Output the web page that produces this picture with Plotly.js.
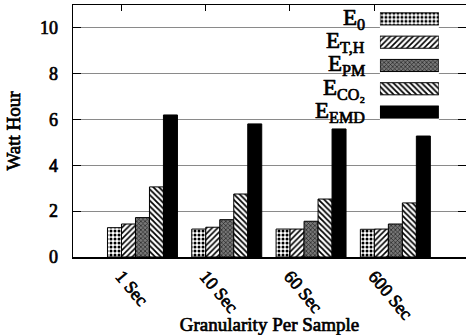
<!DOCTYPE html>
<html>
<head>
<meta charset="utf-8">
<script src="https://cdn.plot.ly/plotly-3.0.1.min.js"></script>
<style>
  html, body { margin: 0; padding: 0; background: #fff; }
  #chart { width: 466px; height: 335px; }
  /* heavier strokes for the serif labels */
  #chart svg text { stroke: #000; stroke-width: 0.7px; stroke-linejoin: round; }
</style>
</head>
<body>
<div id="chart"></div>
<script>
// Energy per sampling granularity (Watt hour)
const categories = ['1 Sec', '10 Sec', '60 Sec', '600 Sec'];
const seriesNames = ['E<sub>0</sub>', 'E<sub>T,H</sub>', 'E<sub>PM</sub>', 'E<sub>CO₂</sub>', 'E<sub>EMD</sub>'];
const e0   = [1.28, 1.22, 1.22, 1.21];
const eTH  = [1.44, 1.30, 1.22, 1.22];
const ePM  = [1.72, 1.63, 1.56, 1.44];
const eCO2 = [3.06, 2.75, 2.53, 2.36];
const eEMD = [6.20, 5.81, 5.59, 5.28];
const seriesValues = [e0, eTH, ePM, eCO2, eEMD];

// fill styles for each series (pattern shape, foreground, background)
const styles = [
  { shape: '.',  fg: '#000', bg: '#fff', size: 4, solidity: 0.45 },
  { shape: '/',  fg: '#000', bg: '#fff', size: 4, solidity: 0.4 },
  { shape: 'x',  fg: '#222', bg: '#777', size: 3, solidity: 0.4 },
  { shape: '\\', fg: '#000', bg: '#fff', size: 4, solidity: 0.45 },
  { shape: '',   fg: '#000', bg: '#000', size: 5, solidity: 0.5 }
];

const xIdx = categories.map((c, i) => i);
const FAMILY = 'Liberation Serif';

function barMarker(s) {
  return {
    color: s.bg,
    line: { color: '#000', width: 1 },
    pattern: {
      shape: s.shape,
      fgcolor: s.fg,
      bgcolor: s.bg,
      size: s.size,
      solidity: s.solidity,
      fillmode: 'replace'
    }
  };
}

const traces = seriesValues.map((vals, k) => ({
  type: 'bar',
  x: xIdx,
  y: vals,
  name: seriesNames[k],
  showlegend: false,
  hoverinfo: 'skip',
  marker: barMarker(styles[k])
}));

// key swatches: one horizontal bar per series on an overlay axis pair
seriesNames.forEach((n, k) => {
  traces.push({
    type: 'bar',
    orientation: 'h',
    xaxis: 'x2',
    yaxis: 'y2',
    y: [n],
    x: [1],
    width: 0.52,
    offsetgroup: 'key',
    showlegend: false,
    hoverinfo: 'skip',
    marker: barMarker(styles[k])
  });
});

const tickShift = -0.25;
const tickFont = { family: FAMILY, size: 18, color: '#000' };
const titleFont = { family: FAMILY, size: 19, color: '#000' };

const layout = {
  width: 466,
  height: 335,
  margin: { l: 73, r: 0, t: 5, b: 78 },
  paper_bgcolor: '#fff',
  plot_bgcolor: '#fff',
  barmode: 'group',
  bargap: 0.17,
  bargroupgap: 0,
  showlegend: false,
  font: { family: FAMILY, color: '#000' },
  xaxis: {
    range: [-0.824, 3.838],
    tickvals: xIdx.map(i => i + tickShift),
    ticktext: categories,
    tickangle: 50,
    ticks: 'inside',
    ticklen: 6,
    tickcolor: '#000',
    mirror: 'allticks',
    showline: true,
    linecolor: '#000',
    linewidth: 1.5,
    showgrid: false,
    zeroline: false,
    tickfont: tickFont,
    title: { text: 'Granularity Per Sample', font: titleFont, standoff: 0 }
  },
  yaxis: {
    range: [0, 11],
    dtick: 2,
    ticks: 'inside',
    ticklen: 8,
    tickcolor: '#000',
    mirror: 'allticks',
    showline: true,
    linecolor: '#000',
    linewidth: 1.5,
    showgrid: true,
    gridcolor: '#8a8a8a',
    gridwidth: 1,
    zeroline: false,
    ticklabelstandoff: 10,
    tickfont: tickFont,
    title: { text: 'Watt Hour', font: titleFont, standoff: 14 }
  },
  xaxis2: {
    domain: [0.781, 0.931],
    anchor: 'y2',
    range: [0, 1],
    visible: false,
    fixedrange: true
  },
  yaxis2: {
    domain: [0.529, 0.991],
    anchor: 'x2',
    type: 'category',
    categoryarray: seriesNames,
    range: [4.5, -0.5],
    visible: false,
    fixedrange: true
  },
  shapes: [{
    type: 'rect', xref: 'paper', yref: 'paper',
    x0: 0.636, x1: 1, y0: 0.536, y1: 1,
    fillcolor: '#fff', line: { width: 0 }, layer: 'between'
  }],
  annotations: seriesNames.map(n => ({
    xref: 'paper', yref: 'y2',
    x: 0.748, y: n,
    xanchor: 'right', yanchor: 'middle',
    text: n,
    showarrow: false,
    font: { family: FAMILY, size: 23, color: '#000' }
  }))
};

Plotly.newPlot('chart', traces, layout, { staticPlot: true, displayModeBar: false });
</script>
</body>
</html>
